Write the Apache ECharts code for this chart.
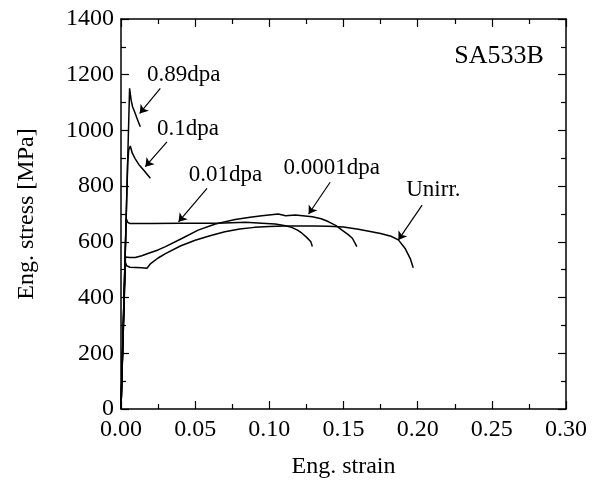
<!DOCTYPE html>
<html>
<head>
<meta charset="utf-8">
<script src="https://cdn.jsdelivr.net/npm/echarts@6/dist/echarts.min.js"></script>
<style>
  html, body { margin: 0; padding: 0; background: #fff; }
  #chart { width: 602px; height: 488px; }
</style>
</head>
<body>
<div id="chart"></div>
<script>
// stress-strain curves, [strain, stress MPa]
let unirr = [[0, 0], [0.0029, 528], [0.0038, 514], [0.006, 509], [0.01, 508], [0.014, 507], [0.0175, 505],
  [0.02, 522], [0.025, 542], [0.03, 558], [0.04, 585], [0.05, 606], [0.06, 622], [0.07, 636], [0.08, 646],
  [0.09, 652], [0.10, 655], [0.11, 657], [0.12, 657], [0.13, 657], [0.14, 656], [0.15, 653], [0.16, 645],
  [0.168, 637], [0.175, 630], [0.182, 620], [0.187, 607], [0.1917, 575], [0.195, 540], [0.197, 507]]
let dpa0001 = [[0, 0], [0.003, 546], [0.006, 544], [0.0096, 544], [0.014, 550], [0.0186, 559], [0.025, 571],
  [0.03, 583], [0.041, 612], [0.052, 642], [0.0636, 664], [0.077, 680], [0.087, 688], [0.095, 694],
  [0.106, 700], [0.111, 694], [0.1175, 696], [0.129, 690], [0.135, 683], [0.14, 672], [0.145, 658],
  [0.149, 642], [0.153, 627], [0.156, 613], [0.159, 583]]
let dpa001 = [[0, 0], [0.0035, 684], [0.0045, 670], [0.006, 666], [0.02, 666], [0.04, 667], [0.06, 667],
  [0.07, 668], [0.084, 670], [0.095, 667], [0.104, 664], [0.11, 659], [0.115, 652], [0.119, 642],
  [0.122, 631], [0.125, 617], [0.128, 600], [0.129, 583]]
let dpa01 = [[0, 0], [0.0045, 880], [0.0052, 930], [0.0063, 944], [0.0075, 920], [0.0096, 898],
  [0.012, 878], [0.0152, 858], [0.0198, 828]]
let dpa089 = [[0, 0], [0.0058, 1151], [0.0063, 1148], [0.0068, 1110], [0.0078, 1085], [0.0096, 1061],
  [0.011, 1040], [0.013, 1013]]

// annotation arrows (tail -> head) and labels (left edge, middle)
let arrows = [
  [[0.0265, 1151], [0.0126, 1061]],
  [[0.031, 959], [0.0164, 870]],
  [[0.058, 792], [0.0388, 672]],
  [[0.141, 814], [0.1265, 700]],
  [[0.203, 732], [0.187, 607]]
]
let labelNames = ['0.89dpa', '0.1dpa', '0.01dpa', '0.0001dpa', 'Unirr.']
let labelPos = [[0.0175, 1199], [0.0243, 1005], [0.0456, 840], [0.1096, 867], [0.1923, 786]]
let materialName = 'SA533B'
let materialPos = [0.2247, 1268]

let font = 'Liberation Serif'
let chart = echarts.init(document.getElementById('chart'))

let axisCommon = {
  axisLine: { show: true, onZero: false, lineStyle: { color: '#000', width: 1.5 } },
  axisTick: { show: true, inside: true, length: 8, lineStyle: { color: '#000', width: 1.2 } },
  minorTick: { show: true, splitNumber: 2, length: 5, lineStyle: { color: '#000', width: 1.2 } },
  splitLine: { show: false }
}

function curve(name, data) {
  return {
    name: name,
    type: 'line',
    data: data,
    showSymbol: false,
    lineStyle: { color: '#000', width: 1.5 },
    silent: true
  }
}

function textSeries(items, size) {
  return {
    type: 'scatter',
    silent: true,
    symbolSize: 0,
    itemStyle: { opacity: 1 },
    data: items,
    label: {
      show: true, position: 'inside', align: 'left', verticalAlign: 'middle',
      formatter: p => p.name,
      fontFamily: font, fontSize: size, color: '#000'
    }
  }
}

let option = {
  backgroundColor: '#fff',
  animation: false,
  grid: { left: 121, right: 36, top: 19, bottom: 79 },
  xAxis: [
    Object.assign({
      type: 'value', min: 0, max: 0.30, interval: 0.05, position: 'bottom',
      name: 'Eng. strain', nameLocation: 'middle', nameGap: 46,
      nameTextStyle: { fontFamily: font, fontSize: 24, color: '#000' },
      axisLabel: { fontFamily: font, fontSize: 24, color: '#000', margin: 9,
        formatter: v => v.toFixed(2) }
    }, axisCommon),
    Object.assign({
      type: 'value', min: 0, max: 0.30, interval: 0.05, position: 'top',
      axisLabel: { show: false }
    }, axisCommon)
  ],
  yAxis: [
    Object.assign({
      type: 'value', min: 0, max: 1400, interval: 200, position: 'left',
      name: 'Eng. stress [MPa]', nameLocation: 'middle', nameGap: 82,
      nameTextStyle: { fontFamily: font, fontSize: 24, color: '#000' },
      axisLabel: { fontFamily: font, fontSize: 24, color: '#000', margin: 7,
        formatter: v => String(v) }
    }, axisCommon),
    Object.assign({
      type: 'value', min: 0, max: 1400, interval: 200, position: 'right',
      axisLabel: { show: false }
    }, axisCommon)
  ],
  series: [
    curve('Unirr.', unirr),
    curve('0.0001dpa', dpa0001),
    curve('0.01dpa', dpa001),
    curve('0.1dpa', dpa01),
    curve('0.89dpa', dpa089),
    {
      type: 'lines',
      coordinateSystem: 'cartesian2d',
      silent: true,
      symbol: ['none', 'arrow'],
      symbolSize: 8,
      lineStyle: { color: '#000', width: 1.2, opacity: 1 },
      data: arrows.map(a => ({ coords: a }))
    },
    textSeries(labelPos.map((p, i) => ({ name: labelNames[i], value: p })), 23),
    textSeries([{ name: materialName, value: materialPos }], 26)
  ]
}
chart.setOption(option)
</script>
</body>
</html>
